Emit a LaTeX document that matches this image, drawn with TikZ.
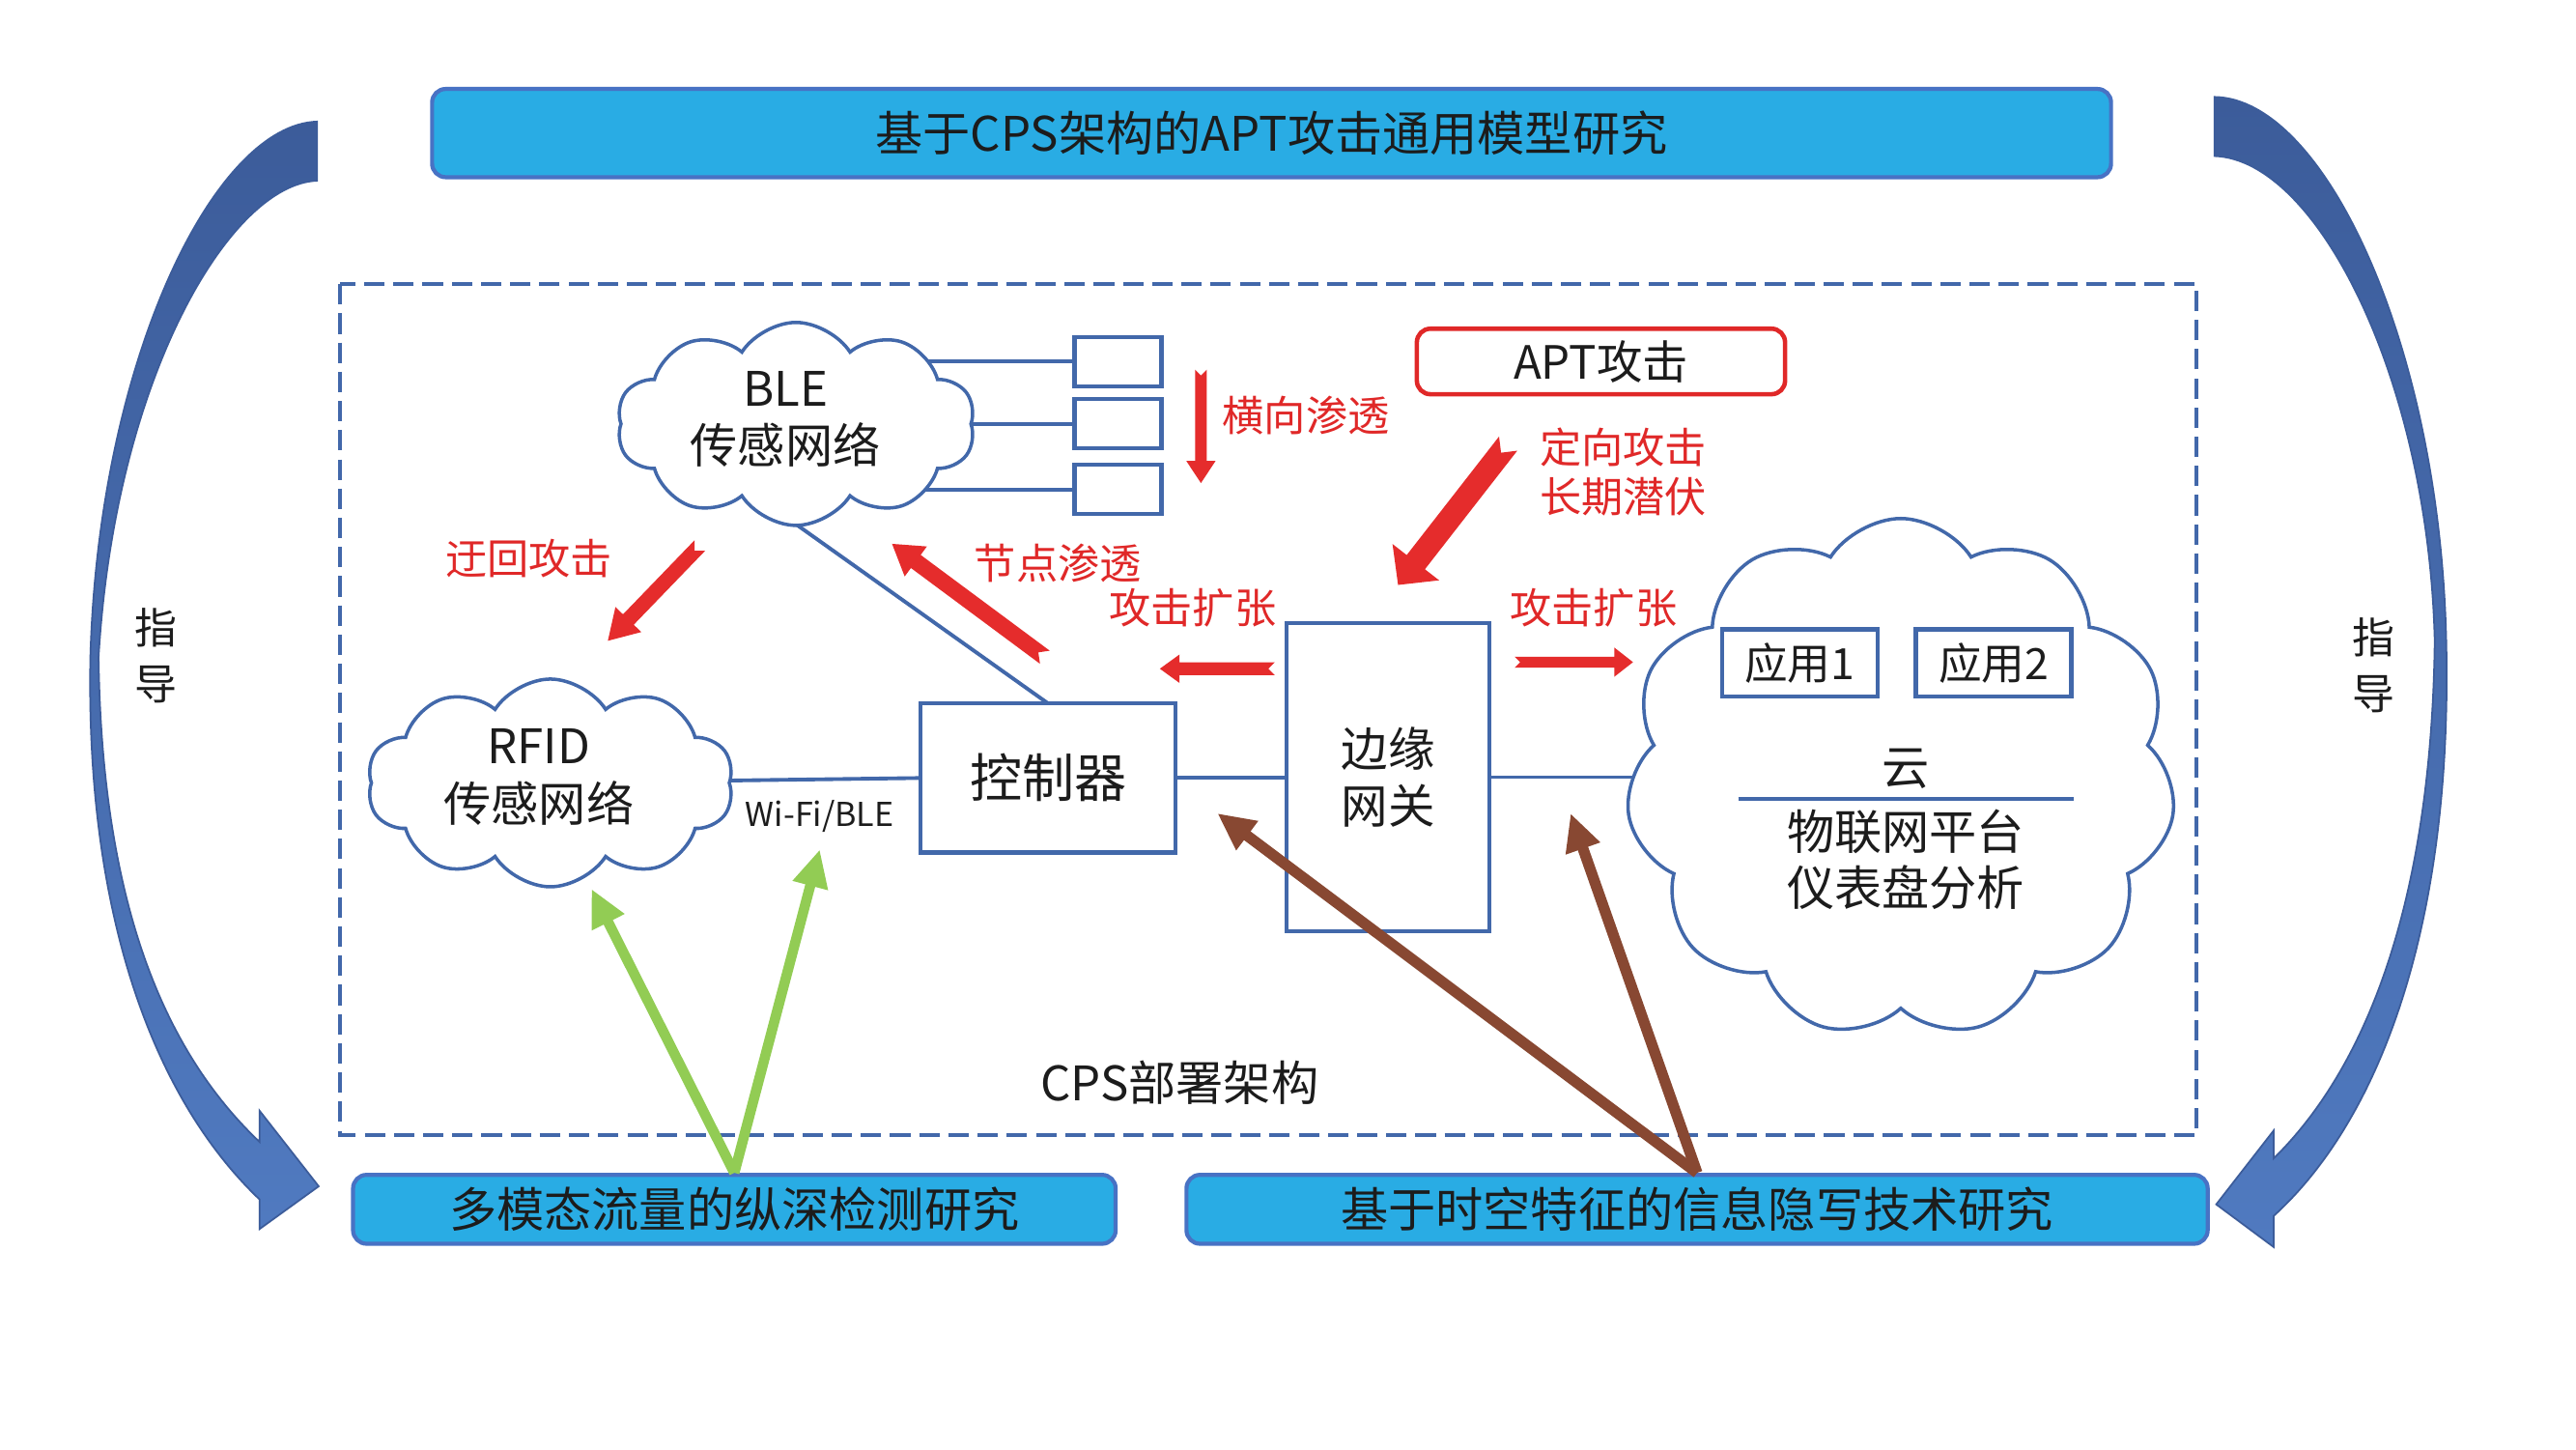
\documentclass[tikz,border=0pt]{standalone}
\usepackage{fontspec}
\setmainfont{Noto Sans CJK SC}
\usetikzlibrary{shapes.symbols,arrows.meta,backgrounds,calc}
\definecolor{lblue}{RGB}{66,104,170}
\definecolor{boxcyan}{RGB}{41,172,228}
\definecolor{boxedge}{RGB}{72,114,196}
\definecolor{ared}{RGB}{229,44,44}
\definecolor{tred}{RGB}{224,40,40}
\definecolor{agreen}{RGB}{146,204,84}
\definecolor{abrown}{RGB}{136,72,50}
\definecolor{cdark}{RGB}{60,92,154}
\definecolor{clight}{RGB}{80,122,192}
\definecolor{txt}{RGB}{28,28,28}

% #1 tail, #2 tip, #3 shaft half width, #4 head half width, #5 head length
\newcommand\redblock[5]{%
  \coordinate (rb-base) at ($(#2)!#5!(#1)$);
  \fill[ared] ($(#1)!#3!90:(#2)$) -- ($(rb-base)!#3!90:(#2)$) -- ($(rb-base)!#4!90:(#2)$) -- (#2)
    -- ($(rb-base)!#4!-90:(#2)$) -- ($(rb-base)!#3!-90:(#2)$) -- ($(#1)!#3!-90:(#2)$)
    -- ($(#1)!#3!(#2)$) -- cycle;}

\begin{document}
\begin{tikzpicture}[x=0.017009cm, y=-0.017009cm,
  cloudn/.style={cloud, draw=lblue, fill=white, line width=1pt, cloud puff arc=115, cloud ignores aspect, inner sep=0pt},
  boxn/.style={draw=lblue, fill=white, line width=1.2pt, inner sep=0pt, outer sep=0pt, text=txt},
  bluebox/.style={draw=boxedge, fill=boxcyan, line width=1.2pt, rounded corners=4pt, inner sep=0pt, text=txt},
  lnk/.style={draw=lblue, line width=1.1pt},
  lbl/.style={text=txt, inner sep=0pt},
  redlbl/.style={text=tred, inner sep=0pt, font=\fontsize{12.3}{14.5}\selectfont},
  greenarr/.style={draw=agreen, line width=3pt, -{Triangle[width=10pt,length=11pt]}},
  brownarr/.style={draw=abrown, line width=3.2pt, -{Triangle[width=10pt,length=11pt]}},
  big/.style={font=\fontsize{14}{16.9}\selectfont}]
\begin{pgfonlayer}{background}
\fill[white] (0,0) rectangle (1568,882);
\end{pgfonlayer}
\useasboundingbox (0,0) rectangle (1568,882);

% guidance arrows
\path[top color=cdark, bottom color=clight, draw=cdark, line width=0.5pt]
  (193,74) .. controls (130,76) and (60,220) .. (55,400)
  .. controls (52,560) and (95,670) .. (158,730) -- (158,748) -- (194,722) -- (158,676) -- (158,695)
  .. controls (100,640) and (62,550) .. (60,400)
  .. controls (70,230) and (140,112) .. (193,110) -- cycle;
\path[top color=cdark, bottom color=clight, draw=cdark, line width=0.5pt]
  (1348,59) .. controls (1415,60) and (1485,210) .. (1489,390)
  .. controls (1493,560) and (1450,680) .. (1384,740) -- (1384,759) -- (1349,733) -- (1384,688) -- (1384,705)
  .. controls (1440,650) and (1480,550) .. (1482,390)
  .. controls (1478,230) and (1410,97) .. (1348,95) -- cycle;
\node[lbl, align=center, font=\fontsize{12.5}{16.4}\selectfont] (zd1) at (95,399) {指\\导};
\node[lbl, align=center, font=\fontsize{12.5}{16.4}\selectfont] (zd2) at (1445,405) {指\\导};

% top box
\node[bluebox, minimum width=494.7pt, minimum height=26pt, font=\fontsize{14}{17}\selectfont] (topbox) at (774,81) {基于CPS架构的APT攻击通用模型研究};

% frame
\draw[lblue, line width=1.2pt, dash pattern=on 6pt off 2.6pt] (207,173) rectangle (1337,691);
\node[lbl, big] (cps) at (718,659) {CPS部署架构};

% clouds
\node[cloudn, cloud puffs=10, minimum width=105.6pt, minimum height=59.8pt] (ble) at (484.5,258) {};
\node[lbl, align=center, big] (bletxt) at (478,255) {BLE\\传感网络};
\node[cloudn, cloud puffs=10, minimum width=108pt, minimum height=61.2pt] (rfid) at (335,476.5) {};
\node[lbl, align=center, big] (rfidtxt) at (328,473) {RFID\\传感网络};
\node[cloudn, cloud puffs=11, minimum width=162pt, minimum height=152.9pt] (iot) at (1157,473.5) {};

% boxes
\node[boxn, minimum width=25.6pt, minimum height=14.5pt] (s1) at (680.5,220) {};
\node[boxn, minimum width=25.6pt, minimum height=14.5pt] (s2) at (680.5,258) {};
\node[boxn, minimum width=25.6pt, minimum height=14.5pt] (s3) at (680.5,298) {};
\node[boxn, minimum width=75.2pt, minimum height=43.9pt, font=\fontsize{15.4}{18}\selectfont] (ctrl) at (638,473.5) {控制器};
\node[boxn, minimum width=59.8pt, minimum height=90.7pt, align=center, font=\fontsize{13.8}{16.9}\selectfont] (gw) at (845,473) {边缘\\网关};
\node[boxn, minimum width=45.8pt, minimum height=19.8pt, font=\fontsize{12.7}{15}\selectfont] (app1) at (1095.5,403.5) {应用1};
\node[boxn, minimum width=45.8pt, minimum height=19.8pt, font=\fontsize{12.7}{15}\selectfont] (app2) at (1213.5,403.5) {应用2};
\node[draw=tred, fill=white, line width=1.3pt, rounded corners=4pt, inner sep=0pt, minimum width=108.5pt, minimum height=19.3pt, font=\fontsize{13.5}{16}\selectfont, text=txt] (apt) at (974.5,220) {APT攻击};

% cloud text
\node[lbl, big] (yun) at (1160,468) {云};
\coordinate (ln1) at (1058,486);
\coordinate (ln2) at (1262,486);
\draw[lnk] (ln1) -- (ln2);
\node[lbl, align=center, font=\fontsize{14}{16.4}\selectfont] (plat) at (1160,523) {物联网平台\\仪表盘分析};

% links
\coordinate (blebot) at (483,318);
\begin{pgfonlayer}{background}
\draw[lnk] (s1.west) -- (s1.west -| ble.center);
\draw[lnk] (s2.west) -- (s2.west -| ble.center);
\draw[lnk] (s3.west) -- (s3.west -| ble.center);
\draw[lnk] (ctrl.north) -- ($(ctrl.north)!1.4!(blebot)$);
\draw[lnk] (ctrl.west) -- (rfid.center);
\draw[lnk] (gw.east) -- (gw.east -| iot.center);
\end{pgfonlayer}
\draw[lnk] (ctrl.east) -- (ctrl.east -| gw.west);
\node[lbl, font=\fontsize{9.7}{11}\selectfont] (wifi) at (499,497) {Wi-Fi/BLE};

% red labels
\node[redlbl] (l1) at (322,340) {迂回攻击};
\node[redlbl] (l2) at (644,343) {节点渗透};
\node[redlbl] (l3) at (726,370) {攻击扩张};
\node[redlbl] (l4) at (970,370) {攻击扩张};
\node[redlbl] (l5) at (795,253) {横向渗透};
\node[redlbl, align=left] (l6) at (988,287) {定向攻击\\长期潜伏};

% red block arrows
\coordinate (r1a) at (426,332); \coordinate (r1b) at (370,390);
\redblock{r1a}{r1b}{2.2pt}{5.3pt}{8.7pt}
\coordinate (r2a) at (636,400); \coordinate (r2b) at (543,331);
\redblock{r2a}{r2b}{2.4pt}{5.5pt}{8.7pt}
\coordinate (r3a) at (776,407); \coordinate (r3b) at (706,407);
\redblock{r3a}{r3b}{1.9pt}{4.2pt}{5.8pt}
\coordinate (r4a) at (922,403); \coordinate (r4b) at (994,403);
\redblock{r4a}{r4b}{1.6pt}{4.3pt}{5.5pt}
\coordinate (r5a) at (731,225); \coordinate (r5b) at (731,294);
\redblock{r5a}{r5b}{1.7pt}{4.3pt}{6.5pt}
\coordinate (r6a) at (918,270); \coordinate (r6b) at (851,356);
\redblock{r6a}{r6b}{3.4pt}{8.7pt}{8.5pt}

% bottom boxes
\node[bluebox, minimum width=224.7pt, minimum height=20.3pt, big] (bl) at (447,736) {多模态流量的纵深检测研究};
\node[bluebox, minimum width=300.9pt, minimum height=20.3pt, big] (br) at (1033,736) {基于时空特征的信息隐写技术研究};

% research arrows
\coordinate (g1) at (360,541); \coordinate (g2) at (499,517);
\draw[greenarr] (bl.north) -- (g1);
\draw[greenarr] (bl.north) -- (g2);
\coordinate (b1) at (741,495); \coordinate (b2) at (956,495);
\draw[brownarr] (br.north) -- (b1);
\draw[brownarr] (br.north) -- (b2);
\end{tikzpicture}
\end{document}
